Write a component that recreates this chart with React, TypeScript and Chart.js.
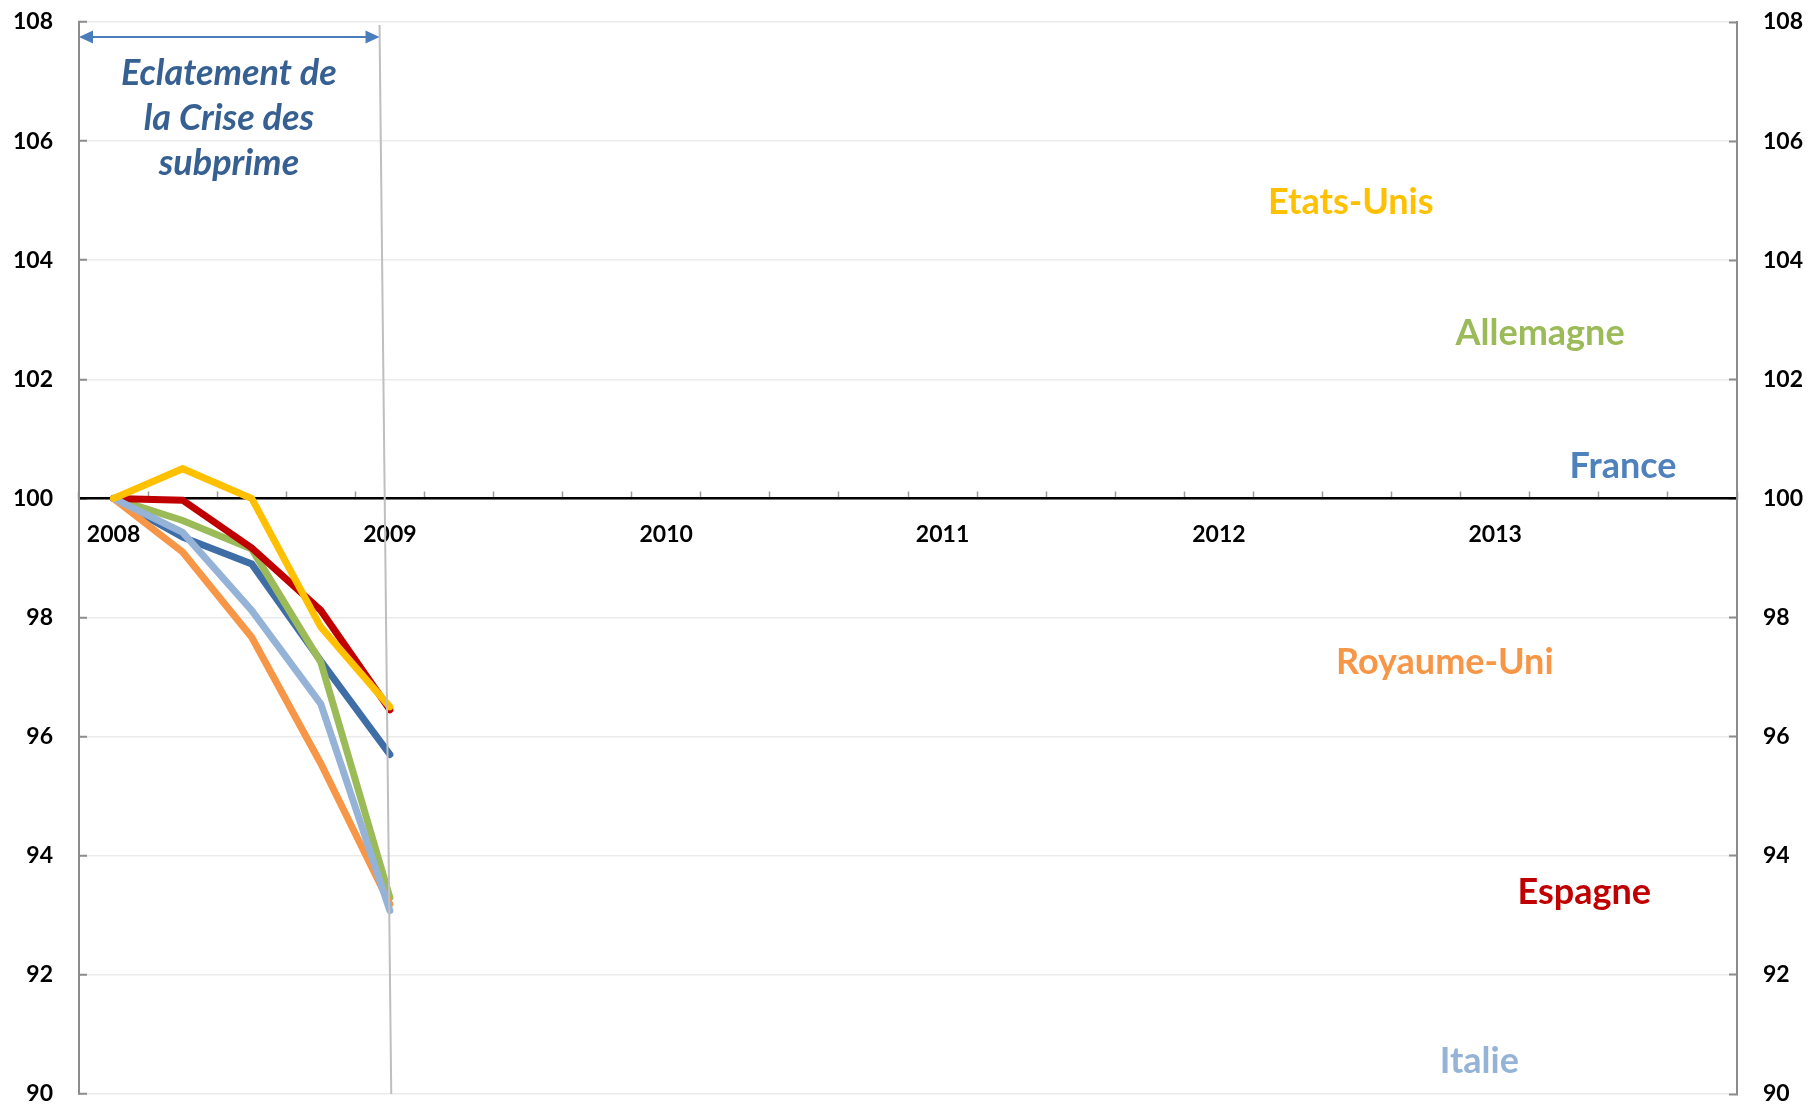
import React, { useEffect, useRef } from 'react';
import { Chart, registerables } from 'chart.js';

Chart.register(...registerables);

// ---- Data ----
const quarters = [
  '2008 T1', '2008 T2', '2008 T3', '2008 T4',
  '2009 T1', '2009 T2', '2009 T3', '2009 T4',
  '2010 T1', '2010 T2', '2010 T3', '2010 T4',
  '2011 T1', '2011 T2', '2011 T3', '2011 T4',
  '2012 T1', '2012 T2', '2012 T3', '2012 T4',
  '2013 T1', '2013 T2', '2013 T3', '2013 T4',
];
const yearTickLabels = [
  '2008', '', '', '',
  '2009', '', '', '',
  '2010', '', '', '',
  '2011', '', '', '',
  '2012', '', '', '',
  '2013', '', '', '',
];

const etatsUnis = [100, 100.5, 100.0, 97.84, 96.5];
const allemagne = [100, 99.63, 99.15, 97.25, 93.3];
const france = [100, 99.35, 98.9, 97.27, 95.7];
const royaumeUni = [100, 99.1, 97.67, 95.55, 93.19];
const espagne = [100, 99.97, 99.17, 98.12, 96.45];
const italie = [100, 99.43, 98.12, 96.55, 93.08];

const Y_MIN = 90;
const Y_MAX = 108;
const Y_STEP = 2;

const seriesNames = ['Etats-Unis', 'Allemagne', 'France', 'Royaume-Uni', 'Espagne', 'Italie'];
const lineColors = ['#FFC000', '#9BBB59', '#3F6DA6', '#F79646', '#C00000', '#95B3D7'];
const labelColors = ['#FFC000', '#9BBB59', '#4F81BD', '#F79646', '#C00000', '#95B3D7'];
const drawOrder = [1, 5, 6, 4, 3, 2]; // lower = on top
// label anchor (category index, value at baseline)
const labelX = [17.91, 20.65, 21.85, 19.27, 21.29, 19.77];
const labelY = [104.77, 102.57, 100.34, 97.06, 93.19, 90.35];

const annotationLines = ['Eclatement de', 'la Crise des', 'subprime'];
const annotationX = 1.67;
const annotationBaselines = [106.94, 106.18, 105.43];
const ARROW_Y = 107.75;
const VLINE_X_TOP = 3.85;
const VLINE_X_BOTTOM = 4.02;
const VLINE_Y_TOP = 107.95;

const FONT = 'Lato, "Open Sans", sans-serif';

const annotationPlugin = {
  id: 'crisisAnnotation',
  afterDatasetsDraw(chart: any) {
    const { ctx, chartArea } = chart;
    const x = chart.scales.x;
    const y = chart.scales.y;
    ctx.save();

    // slanted grey vertical marker
    const xTop = x.getPixelForValue(VLINE_X_TOP);
    const xBot = x.getPixelForValue(VLINE_X_BOTTOM);
    ctx.strokeStyle = '#bfbfbf';
    ctx.lineWidth = 2;
    ctx.beginPath();
    ctx.moveTo(xTop, y.getPixelForValue(VLINE_Y_TOP));
    ctx.lineTo(xBot, chartArea.bottom);
    ctx.stroke();

    // double arrow
    const ay = y.getPixelForValue(ARROW_Y);
    const ax1 = chartArea.left;
    const ax2 = xTop;
    const head = 14;
    const hw = 6.5;
    ctx.strokeStyle = '#4A7EBB';
    ctx.fillStyle = '#4A7EBB';
    ctx.lineWidth = 2;
    ctx.beginPath();
    ctx.moveTo(ax1 + head - 2, ay);
    ctx.lineTo(ax2 - head + 2, ay);
    ctx.stroke();
    ctx.beginPath();
    ctx.moveTo(ax1, ay);
    ctx.lineTo(ax1 + head, ay - hw);
    ctx.lineTo(ax1 + head, ay + hw);
    ctx.closePath();
    ctx.fill();
    ctx.beginPath();
    ctx.moveTo(ax2, ay);
    ctx.lineTo(ax2 - head, ay - hw);
    ctx.lineTo(ax2 - head, ay + hw);
    ctx.closePath();
    ctx.fill();

    // annotation text
    ctx.font = `italic bold 36px ${FONT}`;
    ctx.fillStyle = '#376092';
    ctx.textAlign = 'center';
    ctx.textBaseline = 'alphabetic';
    const tx = x.getPixelForValue(annotationX);
    annotationLines.forEach((t, i) => {
      ctx.fillText(t, tx, y.getPixelForValue(annotationBaselines[i]));
    });

    // series labels
    ctx.font = `bold 36px ${FONT}`;
    seriesNames.forEach((name, i) => {
      ctx.fillStyle = labelColors[i];
      ctx.fillText(name, x.getPixelForValue(labelX[i]), y.getPixelForValue(labelY[i]));
    });

    ctx.restore();
  },
};

export default function App() {
  const canvasRef = useRef<HTMLCanvasElement | null>(null);

  useEffect(() => {
    document.body.style.margin = '0';
    const canvas = canvasRef.current;
    if (!canvas) return;
    Chart.defaults.font.family = FONT;

    const seriesData = [etatsUnis, allemagne, france, royaumeUni, espagne, italie];
    const datasets = seriesNames.map((name, i) => ({
      label: name,
      data: seriesData[i],
      borderColor: lineColors[i],
      backgroundColor: lineColors[i],
      borderWidth: 7,
      pointRadius: 0,
      pointHoverRadius: 0,
      borderCapStyle: 'round' as const,
      borderJoinStyle: 'miter' as const,
      tension: 0,
      fill: false,
      order: drawOrder[i],
      yAxisID: 'y',
    }));

    const tickFont = { size: 23, family: FONT, weight: 'bold' as const };
    const fitY = (w: number) => (s: any) => {
      s.width = w;
      s.paddingTop = 0;
      s.paddingBottom = 0;
    };

    const chart = new Chart(canvas, {
      type: 'line',
      data: { labels: quarters, datasets },
      options: {
        responsive: false,
        animation: false,
        devicePixelRatio: 1,
        layout: { padding: { top: 22, bottom: 16, left: 0, right: 0 } },
        plugins: {
          legend: { display: false },
          tooltip: { enabled: false },
        },
        scales: {
          x: {
            type: 'category',
            position: { y: 100 } as any,
            offset: true,
            afterFit: (s: any) => { s.height = 0; },
            grid: {
              offset: true,
              drawOnChartArea: false,
              drawTicks: true,
              tickLength: -8,
              tickColor: '#9a9a9a',
              tickWidth: 1.5,
            },
            border: { display: true, color: '#000000', width: 2.5 },
            ticks: {
              autoSkip: false,
              maxRotation: 0,
              minRotation: 0,
              padding: 30,
              color: '#000000',
              font: tickFont,
              callback: (_v: any, i: number) => yearTickLabels[i],
            },
          },
          y: {
            type: 'linear',
            position: 'left',
            min: Y_MIN,
            max: Y_MAX,
            afterFit: fitY(79),
            grid: {
              drawOnChartArea: true,
              color: '#ebebeb',
              lineWidth: 1.5,
              drawTicks: true,
              tickLength: -8,
              tickColor: '#8c8c8c',
              tickWidth: 2,
            },
            border: { display: true, color: '#8c8c8c', width: 2 },
            ticks: {
              stepSize: Y_STEP,
              padding: 34,
              color: '#000000',
              font: tickFont,
            },
          },
          y1: {
            type: 'linear',
            position: 'right',
            min: Y_MIN,
            max: Y_MAX,
            afterFit: fitY(75),
            grid: {
              drawOnChartArea: false,
              drawTicks: true,
              tickLength: -8,
              tickColor: '#8c8c8c',
              tickWidth: 2,
            },
            border: { display: true, color: '#8c8c8c', width: 2 },
            ticks: {
              stepSize: Y_STEP,
              padding: 34,
              color: '#000000',
              font: tickFont,
            },
          },
        },
      },
      plugins: [annotationPlugin],
    });

    return () => chart.destroy();
  }, []);

  return (
    <div style={{ width: 1812, height: 1110, background: '#ffffff' }}>
      <canvas ref={canvasRef} width={1812} height={1110} style={{ display: 'block', width: 1812, height: 1110 }} />
    </div>
  );
}
